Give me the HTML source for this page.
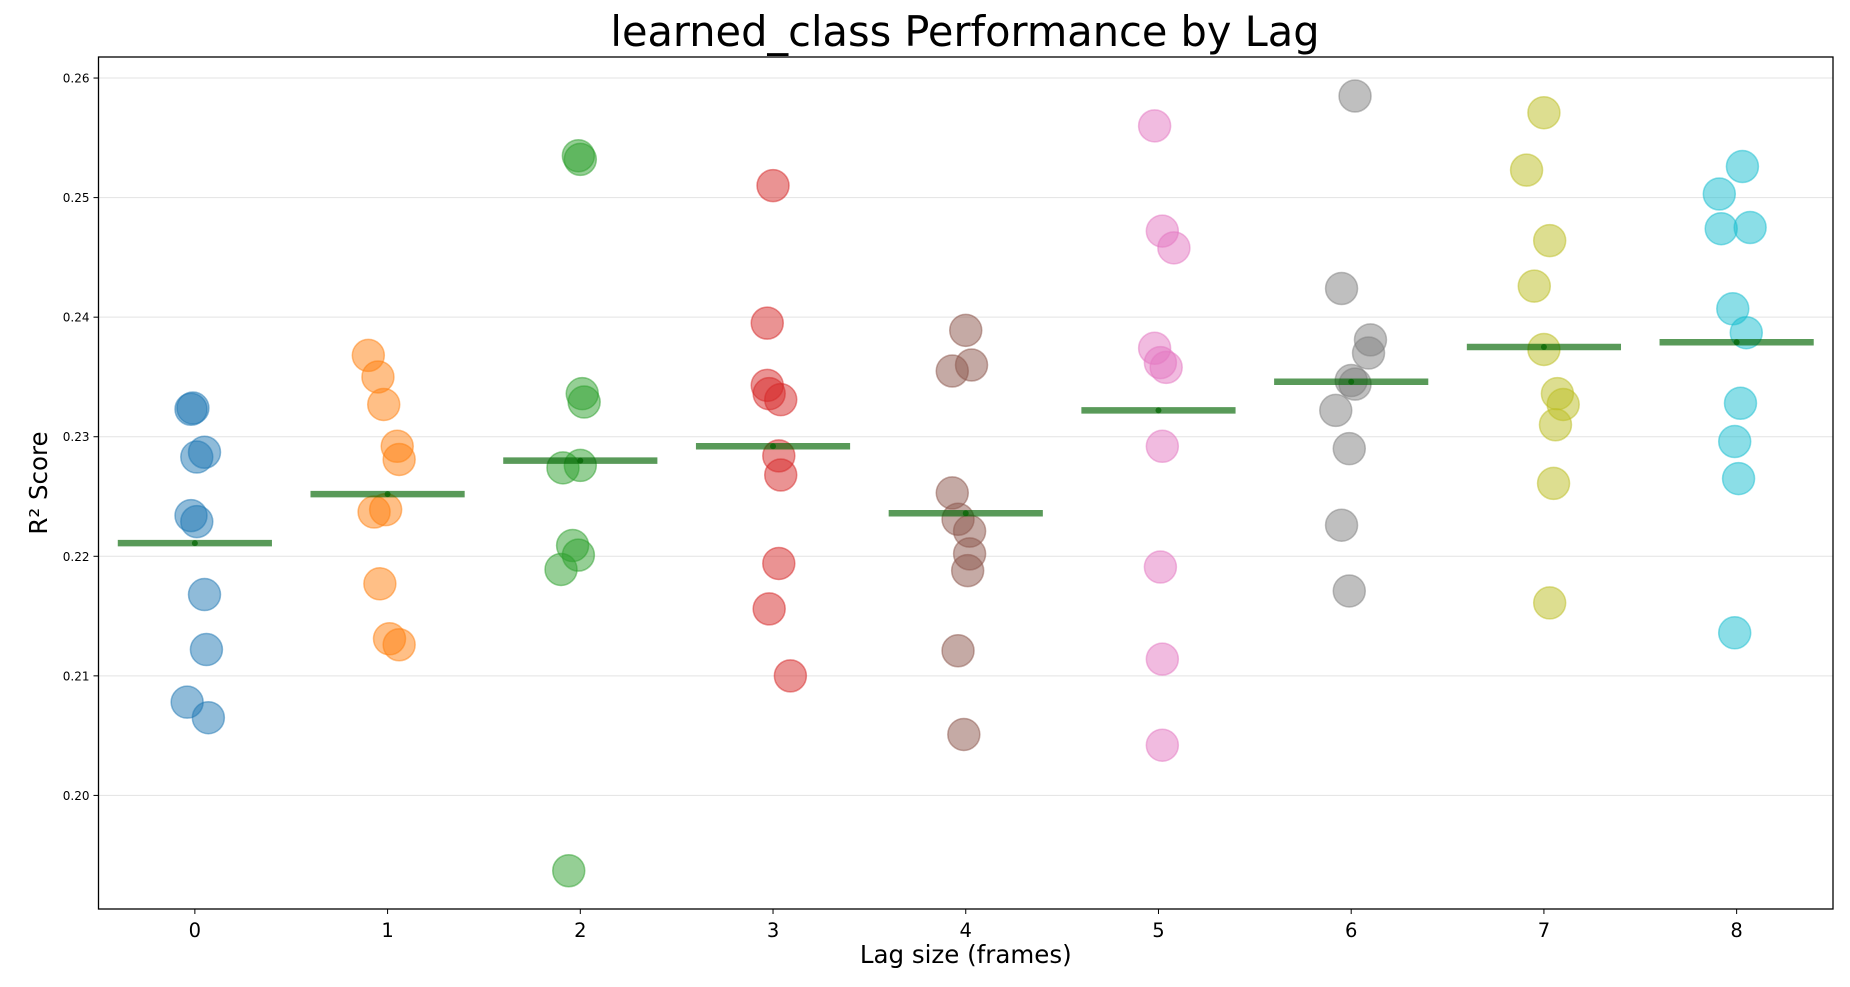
<!DOCTYPE html>
<html><head><meta charset="utf-8"><style>
body{margin:0;background:#fff;}
svg text{font-family:"DejaVu Sans","Liberation Sans",sans-serif;}
</style></head><body>
<svg id="chart" width="1850" height="982" xmlns="http://www.w3.org/2000/svg"></svg>
<script>
const lags=[0,1,2,3,4,5,6,7,8];
const scores0=[0.2324,0.2323,0.2283,0.2287,0.2234,0.2229,0.2168,0.2122,0.2078,0.2065];
const scores1=[0.2368,0.2350,0.2327,0.2292,0.2281,0.2237,0.2239,0.2177,0.2131,0.2126];
const scores2=[0.2535,0.2532,0.2336,0.2329,0.2274,0.2276,0.2209,0.2201,0.2189,0.1937];
const scores3=[0.2510,0.2395,0.2343,0.2336,0.2331,0.2284,0.2268,0.2194,0.2156,0.2100];
const scores4=[0.2389,0.2360,0.2355,0.2253,0.2231,0.2221,0.2202,0.2188,0.2121,0.2051];
const scores5=[0.2560,0.2472,0.2458,0.2374,0.2362,0.2358,0.2292,0.2191,0.2114,0.2042];
const scores6=[0.2585,0.2424,0.2381,0.2370,0.2347,0.2344,0.2322,0.2290,0.2226,0.2171];
const scores7=[0.2571,0.2523,0.2464,0.2426,0.2373,0.2336,0.2327,0.2310,0.2261,0.2161];
const scores8=[0.2526,0.2503,0.2475,0.2474,0.2407,0.2387,0.2328,0.2296,0.2265,0.2136];
const jitter0=[-0.01,-0.02,0.01,0.05,-0.02,0.01,0.05,0.06,-0.04,0.07];
const jitter1=[-0.10,-0.05,-0.02,0.05,0.06,-0.07,-0.01,-0.04,0.01,0.06];
const jitter2=[-0.01,0.00,0.01,0.02,-0.09,0.00,-0.04,-0.01,-0.10,-0.06];
const jitter3=[0.00,-0.03,-0.03,-0.02,0.04,0.03,0.04,0.03,-0.02,0.09];
const jitter4=[0.00,0.03,-0.07,-0.07,-0.04,0.02,0.02,0.01,-0.04,-0.01];
const jitter5=[-0.02,0.02,0.08,-0.02,0.01,0.04,0.02,0.01,0.02,0.02];
const jitter6=[0.02,-0.05,0.10,0.09,0.00,0.02,-0.08,-0.01,-0.05,-0.01];
const jitter7=[0.00,-0.09,0.03,-0.05,0.00,0.07,0.10,0.06,0.05,0.03];
const jitter8=[0.03,-0.09,0.07,-0.08,-0.02,0.05,0.02,-0.01,0.01,-0.01];
const means=[0.2211,0.2252,0.2280,0.2292,0.2236,0.2322,0.2346,0.2375,0.2379];
const yTicks=[0.20,0.21,0.22,0.23,0.24,0.25,0.26];
const colors=['#1f77b4','#ff7f0e','#2ca02c','#d62728','#8c564b','#e377c2','#7f7f7f','#bcbd22','#17becf'];
const allScores=[scores0,scores1,scores2,scores3,scores4,scores5,scores6,scores7,scores8];
const allJitter=[jitter0,jitter1,jitter2,jitter3,jitter4,jitter5,jitter6,jitter7,jitter8];

const L=98.5,R=1833,T=57,B=909;
const xMin=-0.5,xMax=8.5;
const yMin=0.19050,yMax=0.26176;
const xs=v=>L+(v-xMin)/(xMax-xMin)*(R-L);
const ys=v=>B-(v-yMin)/(yMax-yMin)*(B-T);
const NS='http://www.w3.org/2000/svg';
const svg=document.getElementById('chart');
function mk(tag,attrs,parent){const e=document.createElementNS(NS,tag);for(const k in attrs)e.setAttribute(k,attrs[k]);(parent||svg).appendChild(e);return e;}

const t=mk('text',{x:965,y:46,'font-size':41.5,'text-anchor':'middle',fill:'#000'});
t.textContent='learned_class Performance by Lag';



const grid=mk('g',{});


yTicks.forEach(v=>{
  const gl=mk('line',{x1:L,x2:R,y1:ys(v),y2:ys(v),stroke:'#e3e3e3','stroke-width':1},grid);
  
  
  const tk=mk('line',{x1:L-5,x2:L,y1:ys(v),y2:ys(v),stroke:'#000','stroke-width':1});
  
  
  const tl=mk('text',{x:L-9,y:ys(v)+4.5,'font-size':12,'text-anchor':'end',fill:'#000'});
  tl.textContent=v.toFixed(2);
  
  
});

lags.forEach((lag,i)=>{
  const g=mk('g',{});
  
  
  allScores[i].forEach((s,j)=>{
    const c=mk('circle',{cx:xs(lag+allJitter[i][j]),cy:ys(s),r:16,fill:colors[i],'fill-opacity':0.5,stroke:colors[i],'stroke-opacity':0.5,'stroke-width':1.5},g);
    
    
  });
});

lags.forEach((lag,i)=>{
  const ml=mk('line',{x1:xs(lag-0.4),x2:xs(lag+0.4),y1:ys(means[i]),y2:ys(means[i]),stroke:'#006400','stroke-opacity':0.65,'stroke-width':6.5});
  
  
  const md=mk('circle',{cx:xs(lag),cy:ys(means[i]),r:3,fill:'#006400','fill-opacity':0.7});
  
  
  const tk=mk('line',{x1:xs(lag),x2:xs(lag),y1:B,y2:B+5,stroke:'#000','stroke-width':1});
  
  
  const tl=mk('text',{x:xs(lag),y:B+28,'font-size':19.5,'text-anchor':'middle',fill:'#000'});
  tl.textContent=String(lag);
  
  
});

const frame=mk('rect',{x:L,y:T,width:R-L,height:B-T,fill:'none',stroke:'#000','stroke-width':1.3});



const xl=mk('text',{x:(L+R)/2,y:963,'font-size':24.5,'text-anchor':'middle',fill:'#000'});
xl.textContent='Lag size (frames)';


const yl=mk('text',{x:0,y:0,'font-size':24.5,'text-anchor':'middle',fill:'#000',transform:'translate(47,'+((T+B)/2)+') rotate(-90)'});
yl.textContent='R² Score';


</script>
</body></html>
